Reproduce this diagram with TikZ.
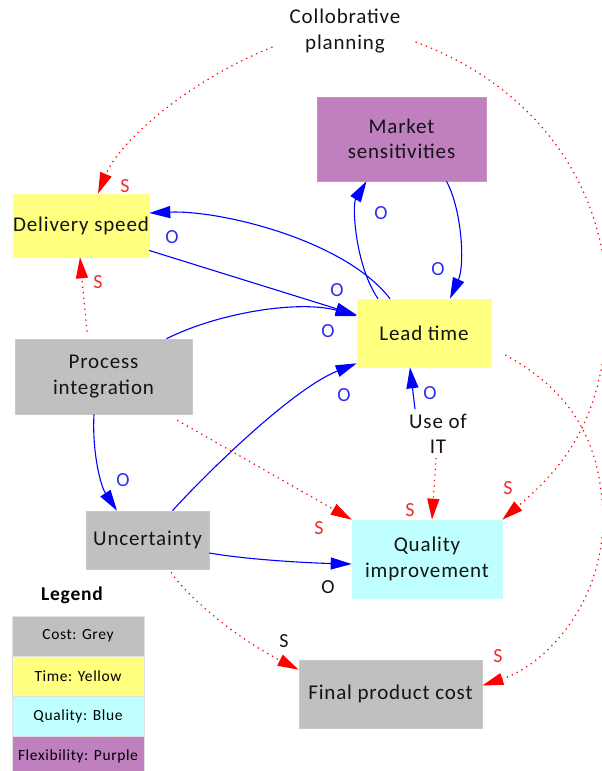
\documentclass[tikz,border=0pt]{standalone}
\usepackage{fontspec}
\setmainfont{Carlito}[LetterSpace=4]
\usetikzlibrary{arrows.meta}

\definecolor{cgrey}{RGB}{192,192,192}
\definecolor{cyellow}{RGB}{255,255,128}
\definecolor{ccyan}{RGB}{192,255,255}
\definecolor{cpurple}{RGB}{192,128,192}
\definecolor{lnblue}{RGB}{0,0,255}
\definecolor{lbblue}{RGB}{45,45,245}
\definecolor{lnred}{RGB}{255,0,0}
\definecolor{lbred}{RGB}{235,45,45}
\definecolor{txt}{RGB}{20,20,20}

\begin{document}
\begin{tikzpicture}[x=1pt,y=-1pt,
  var/.style={inner sep=0pt, align=center, text=txt, font=\fontsize{21}{25.5}\selectfont},
  box/.style={var, fill=#1, draw=#1!85!white, line width=0.6pt},
  legbox/.style={fill=#1, draw=white!88!black, line width=0.6pt, inner sep=0pt,
    minimum width=132pt, minimum height=40pt, text=black, font=\fontsize{15.5}{15.5}\selectfont},
  tip/.style={-{Triangle[length=21pt,width=12pt]}},
  olink/.style={tip, draw=lnblue, line width=1.1pt},
  slink/.style={tip, draw=lnred, line width=1.2pt, dash pattern=on 1.3pt off 4.2pt},
  olab/.style={inner sep=0pt, text=lbblue, font=\fontsize{20}{20}\selectfont},
  slab/.style={inner sep=0pt, text=lbred, font=\fontsize{20}{20}\selectfont},
  klab/.style={inner sep=0pt, text=txt, font=\fontsize{20}{20}\selectfont}]

\clip (0,0) rectangle (602,771);

% variables
\node[box=cpurple, minimum width=169pt, minimum height=84pt] (ms) at (401.5,139) {Market\\sensitivities};
\node[box=cyellow, minimum width=136pt, minimum height=63pt] (ds) at (81,225.5) {Delivery speed};
\node[box=cyellow, minimum width=134pt, minimum height=68pt] (lt) at (424,333) {Lead time};
\node[box=cgrey, minimum width=177pt, minimum height=75pt] (pi) at (103.5,376.5) {Process\\integration};
\node[box=cgrey, minimum width=123pt, minimum height=58pt] (un) at (147.5,540) {Uncertainty};
\node[box=ccyan, minimum width=150pt, minimum height=78pt] (qi) at (427,559) {Quality\\improvement};
\node[box=cgrey, minimum width=183pt, minimum height=68pt] (fpc) at (390.5,694) {Final product cost};
\node[var] (cp) at (345,31) {Collobrative\\planning};
\node[var, font=\fontsize{21}{25}\selectfont] (it) at (438,434) {Use of\\IT};

% legend
\node[inner sep=0pt, text=black, font=\fontsize{19.5}{19.5}\bfseries\selectfont] (legt) at (72,595) {Legend};
\node[legbox=cgrey] (lg1) at (78,636) {Cost: Grey};
\node[legbox=cyellow] (lg2) at (78,676) {Time: Yellow};
\node[legbox=ccyan] (lg3) at (78,716) {Quality: Blue};
\node[legbox=cpurple] (lg4) at (78,756) {Flexibility: Purple};

% opposite-direction links
\draw[olink] ([xshift=-34pt]lt.north) .. controls (345,240) and (220,210) .. ([yshift=12.5pt]ds.east);
\draw[olink] ([yshift=-25pt]ds.east) -- ([yshift=18pt]lt.west);
\draw[olink] ([xshift=63pt]pi.north) .. controls (220,312) and (300,300) .. ([yshift=17pt]lt.west);
\draw[olink] ([xshift=-46pt]lt.north) .. controls (355,265) and (352,205) .. ([xshift=-35pt]ms.south);
\draw[olink] ([xshift=45pt]ms.south) .. controls (462,210) and (465,265) .. ([xshift=26pt]lt.north);
\draw[olink] ([xshift=25pt]un.north) .. controls (200,480) and (290,390) .. ([yshift=4pt]lt.south west);
\draw[olink] ([xshift=-23pt,yshift=5pt]it.north) -- ([xshift=-14pt]lt.south);
\draw[olink] ([xshift=-9.5pt]pi.south) .. controls (92,450) and (100,485) .. ([xshift=-30.5pt]un.north);
\draw[olink] ([yshift=-13pt]un.east) .. controls (250,560) and (310,563) .. ([yshift=-5pt]qi.west);

% same-direction links
\draw[slink] ([xshift=-17pt,yshift=-16pt]cp.west) .. controls (190,80) and (120,140) .. ([xshift=17pt]ds.north);
\draw[slink] ([xshift=15pt,yshift=-11pt]cp.east) .. controls (520,80) and (605,170) .. (607,300)
  .. controls (608,420) and (560,470) .. (qi.north east);
\draw[slink] ([xshift=14pt,yshift=-22pt]lt.east) .. controls (560,385) and (602,430) .. (603,520)
  .. controls (602,605) and (545,665) .. ([yshift=8.5pt]fpc.east);
\draw[slink] ([xshift=-15pt,yshift=-6pt]pi.south east) -- (qi.north west);
\draw[slink] ([xshift=-2pt,yshift=-4pt]it.south) -- ([xshift=5pt]qi.north);
\draw[slink] ([xshift=23.5pt,yshift=-3pt]un.south) .. controls (190,600) and (240,640) .. ([yshift=-10pt]fpc.north west);
\draw[slink] ([xshift=-16.5pt,yshift=7pt]pi.north) -- ([xshift=-1pt]ds.south);

% polarity labels
\node[olab] (o1) at (172,237) {O};
\node[olab] (o2) at (337,290) {O};
\node[olab] (o3) at (328,331) {O};
\node[olab] (o4) at (381,213) {O};
\node[olab] (o5) at (438,269) {O};
\node[olab] (o6) at (344,395) {O};
\node[olab] (o7) at (430,393) {O};
\node[olab] (o8) at (123,480) {O};
\node[klab] (o9) at (328,587) {O};
\node[slab] (s1) at (125,186) {S};
\node[slab] (s2) at (98,282) {S};
\node[slab] (s3) at (508,488) {S};
\node[slab] (s4) at (498,656) {S};
\node[slab] (s5) at (319,528) {S};
\node[slab] (s6) at (410,510) {S};
\node[klab] (s7) at (284,641) {S};
\end{tikzpicture}
\end{document}
